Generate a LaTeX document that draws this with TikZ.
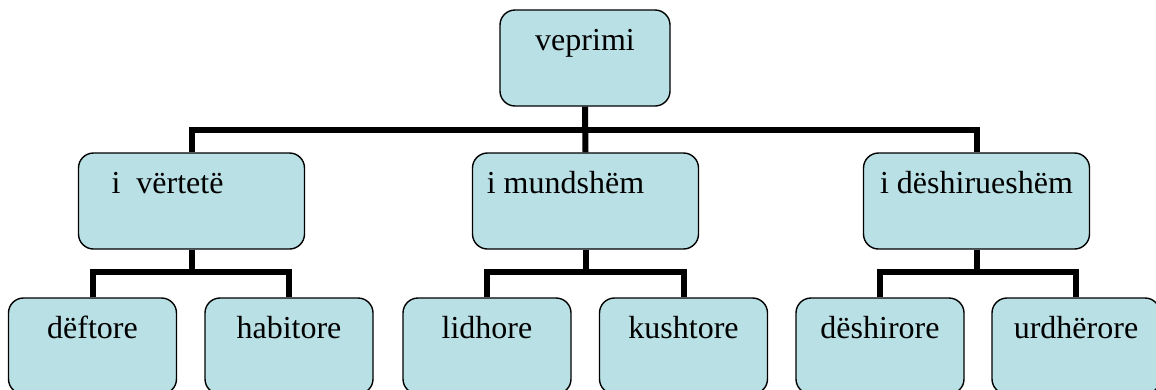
\documentclass[tikz,border=0pt]{standalone}
\usepackage{fontspec}
\setmainfont{Liberation Serif}
\usetikzlibrary{calc}
\definecolor{boxblue}{RGB}{185,224,228}
\tikzset{
  box/.style={draw=black, line width=1.4pt, fill=boxblue, rounded corners=15pt,
    inner xsep=0pt, inner ysep=0pt, minimum height=96pt,
    text height=40pt, text depth=56pt,
    font=\fontsize{32}{38}\selectfont},
  topbox/.style={box, minimum width=170pt},
  midbox/.style={box, minimum width=226pt},
  leafbox/.style={box, minimum width=168pt},
  conn/.style={line width=6pt, draw=black}
}
\begin{document}
\begin{tikzpicture}[x=1pt, y=-1pt]
  \useasboundingbox (0,0) rectangle (1156,389);
  \clip (0,0) rectangle (1156,389);

  % root
  \node[topbox] (root) at (585,58) {veprimi};

  % second level
  \node[midbox] (vert) at (191.5,201) {i\ \ vërtetë\hspace*{48pt}};
  \node[midbox] (mund) at (585.5,201) {i mundshëm\hspace*{40pt}};
  \node[midbox] (desh) at (976.5,201) {i dëshirueshëm};

  % leaves
  \node[leafbox] (deft) at (92.5,346) {dëftore};
  \node[leafbox] (habi) at (289,346) {habitore};
  \node[leafbox] (lidh) at (487,346) {lidhore};
  \node[leafbox] (kush) at (683.5,346) {kushtore};
  \node[leafbox] (dshr) at (880,346) {dëshirore};
  \node[leafbox] (urdh) at (1076,346) {urdhërore};

  % junction points of the bracket connectors
  \coordinate (j0) at ($(root.south)!0.5!(mund.north)$);
  \coordinate (j1) at ($(vert.south)!0.47!(deft.north)$);
  \coordinate (j2) at ($(mund.south)!0.47!(lidh.north)$);
  \coordinate (j3) at ($(desh.south)!0.47!(dshr.north)$);

  % root to second level
  \draw[conn] (root.south) -- (mund.north);
  \draw[conn] (vert.north) |- (j0);
  \draw[conn] (desh.north) |- (j0);

  % second level to leaves
  \draw[conn] (vert.south) -- (vert.south |- j1);
  \draw[conn] (deft.north) |- (vert.south |- j1);
  \draw[conn] (habi.north) |- (vert.south |- j1);

  \draw[conn] (mund.south) -- (mund.south |- j2);
  \draw[conn] (lidh.north) |- (mund.south |- j2);
  \draw[conn] (kush.north) |- (mund.south |- j2);

  \draw[conn] (desh.south) -- (desh.south |- j3);
  \draw[conn] (dshr.north) |- (desh.south |- j3);
  \draw[conn] (urdh.north) |- (desh.south |- j3);
\end{tikzpicture}
\end{document}
